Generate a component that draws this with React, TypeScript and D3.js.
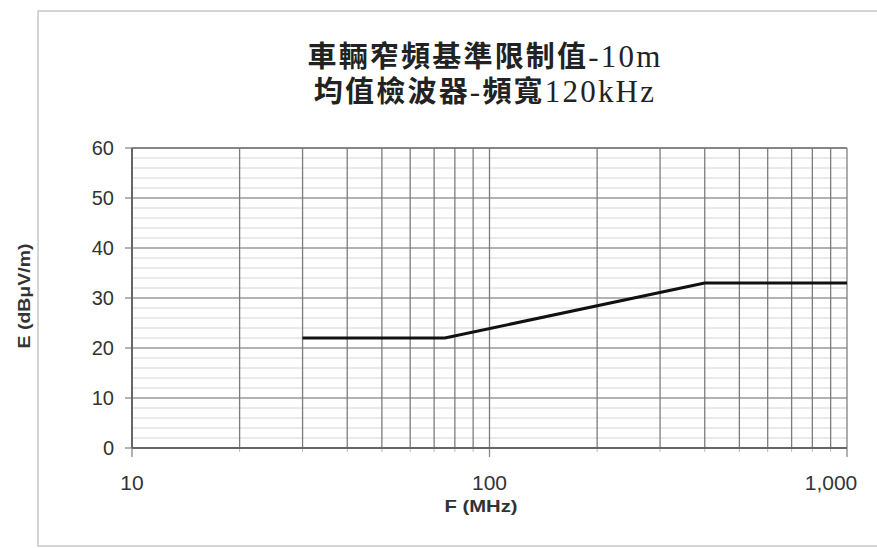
import React from "react";
import * as d3 from "d3";

const titleLines = ["車輛窄頻基準限制值-10m", "均值檢波器-頻寬120kHz"];
const freqMHz = [30, 75, 400, 1000];
const limitDb = [22, 22, 33, 33];
const yTicks = [0, 10, 20, 30, 40, 50, 60];
const xTickValues = [10, 100, 1000];
const xTickLabels = ["10", "100", "1,000"];
const xLabel = "F (MHz)";
const yLabel = "E (dBμV/m)";

const W = 877;
const H = 548;
const M = { left: 132, right: 847, top: 148, bottom: 448 };

function splitRuns(s: string) {
  const runs: { t: string; cjk: boolean }[] = [];
  for (const ch of s) {
    const cjk = /[\u3000-\u9fff\uf900-\ufaff]/.test(ch);
    const last = runs[runs.length - 1];
    if (last && last.cjk === cjk) last.t += ch;
    else runs.push({ t: ch, cjk });
  }
  return runs;
}

export default function App() {
  const x = d3.scaleLog().domain([10, 1000]).range([M.left, M.right]);
  const y = d3.scaleLinear().domain([0, 60]).range([M.bottom, M.top]);

  const vMajor: number[] = [];
  for (const dec of [10, 100]) for (let k = 2; k <= 9; k++) vMajor.push(dec * k);
  vMajor.push(100);
  const hMinor: number[] = [];
  for (let v = 0; v <= 60; v += 2) if (v % 10 !== 0) hMinor.push(v);

  const line = d3
    .line<number>()
    .x((_, i) => x(freqMHz[i]))
    .y((d) => y(d));

  const sans = "'Liberation Sans', Arial, sans-serif";

  return (
    <svg
      width={W}
      height={H}
      style={{ position: "absolute", left: 0, top: 0, background: "#fff" }}
    >
      <rect x={0} y={0} width={W} height={H} fill="#fff" />
      {/* outer frame */}
      <rect x={38} y={11} width={W} height={535} fill="none" stroke="#c8c8c8" strokeWidth={1.5} />

      {/* title */}
      {titleLines.map((t, i) => (
        <text
          key={i}
          x={485}
          y={67 + i * 35}
          textAnchor="middle"
          fontFamily="'Liberation Serif', 'Noto Sans CJK TC', serif"
          fontSize={29}
          letterSpacing={2.2}
          fill="#222"
        >
          {splitRuns(t).map((r, j) => (
            <tspan key={j} fontWeight={r.cjk ? 600 : 400} fontSize={r.cjk ? 29 : 31}>
              {r.t}
            </tspan>
          ))}
        </text>
      ))}

      {/* minor horizontal grid */}
      {hMinor.map((v) => (
        <line key={"hm" + v} x1={M.left} x2={M.right} y1={y(v)} y2={y(v)} stroke="#d4d4d4" strokeWidth={1} />
      ))}
      {/* major horizontal grid */}
      {yTicks.map((v) => (
        <line key={"hM" + v} x1={M.left - 7} x2={M.right} y1={y(v)} y2={y(v)} stroke="#9a9a9a" strokeWidth={1.3} />
      ))}
      {/* vertical grid */}
      {vMajor.map((v) => (
        <line key={"v" + v} x1={x(v)} x2={x(v)} y1={M.top} y2={M.bottom} stroke="#7c7c7c" strokeWidth={1.3} />
      ))}
      {/* minor x ticks below axis */}
      {vMajor.map((v) => (
        <line key={"xt" + v} x1={x(v)} x2={x(v)} y1={M.bottom} y2={M.bottom + 4} stroke="#bbb" strokeWidth={1} />
      ))}
      {xTickValues.map((v) => (
        <line key={"xT" + v} x1={x(v)} x2={x(v)} y1={M.bottom} y2={M.bottom + 9} stroke="#888" strokeWidth={1.3} />
      ))}

      {/* frame */}
      <line x1={M.left} x2={M.right} y1={M.top} y2={M.top} stroke="#777" strokeWidth={1.6} />
      <line x1={M.right} x2={M.right} y1={M.top} y2={M.bottom} stroke="#888" strokeWidth={1.4} />
      <line x1={M.left} x2={M.left} y1={M.top} y2={M.bottom} stroke="#666" strokeWidth={2} />
      <line x1={M.left} x2={M.right} y1={M.bottom} y2={M.bottom} stroke="#666" strokeWidth={2} />

      {/* data line */}
      <path d={line(limitDb) || ""} fill="none" stroke="#111" strokeWidth={3} strokeLinejoin="round" />

      {/* y tick labels */}
      {yTicks.map((v) => (
        <text key={"yl" + v} x={114} y={y(v) + 7} textAnchor="end" fontFamily={sans} fontSize={20} fill="#333">
          {v}
        </text>
      ))}
      {/* x tick labels */}
      {xTickValues.map((v, i) => (
        <text key={"xl" + v} x={x(v) + (i === 2 ? -16 : 0)} y={490} textAnchor="middle" fontFamily={sans} fontSize={21} fill="#333">
          {xTickLabels[i]}
        </text>
      ))}
      {/* axis labels */}
      <text x={481} y={512} textAnchor="middle" fontFamily={sans} fontSize={17} fontWeight="bold" fill="#333" textLength={73} lengthAdjust="spacingAndGlyphs">
        {xLabel}
      </text>
      <text
        transform={`translate(30,296) rotate(-90)`}
        textAnchor="middle"
        fontFamily={sans}
        fontSize={17}
        fontWeight="bold"
        fill="#333"
        textLength={105}
        lengthAdjust="spacingAndGlyphs"
      >
        {yLabel}
      </text>
    </svg>
  );
}
